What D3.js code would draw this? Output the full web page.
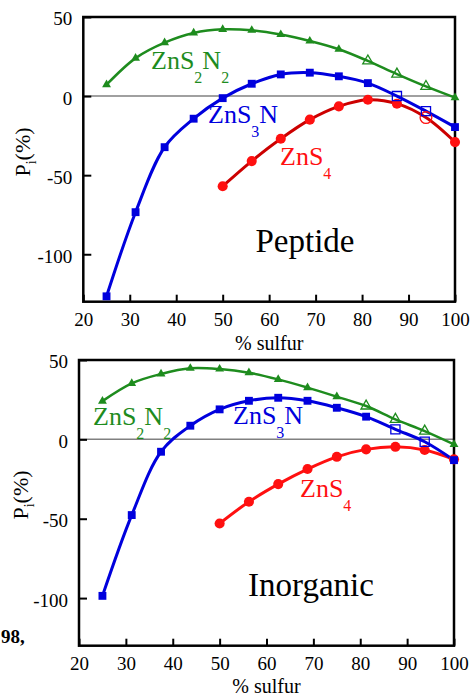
<!DOCTYPE html>
<html>
<head>
<meta charset="utf-8">
<script src="https://cdn.jsdelivr.net/npm/d3@7"></script>
<style>
  body { margin: 0; background: #fff; }
</style>
</head>
<body>
<svg id="chart" width="471" height="698" font-family="Liberation Serif, Times New Roman, serif"></svg>
<script>
// x values shared by every series (% sulfur)
const sulfur = [25, 31.25, 37.5, 43.75, 50, 56.25, 62.5, 68.75, 75, 81.25, 87.5, 93.75, 100];

// Peptide panel
const pepZnS2N2 = [7.2, 24.0, 33.8, 39.9, 42.2, 41.6, 38.9, 34.8, 29.6, 22.2, 13.9, 6.1, -1.0];
const pepZnS3N = [-126.6, -73.4, -32.3, -14.3, -1.3, 7.8, 13.7, 14.8, 12.5, 8.2, 0, -9.5, -19.6];
const pepZnS4 = [null, null, null, null, -57, -41.1, -27, -14.9, -6.5, -2.3, -4.8, -13.6, -29.1];

// Inorganic panel
const inoZnS2N2 = [24.1, 35.3, 41.2, 44.8, 44.3, 42.0, 37.8, 32.6, 26.9, 21.0, 12.6, 5.2, -3.2];
const inoZnS3N = [-98.6, -47.7, -7.8, 8.6, 18.9, 24.3, 26.2, 24.3, 19.9, 14.3, 6.3, -1.5, -13.1];
const inoZnS4 = [null, null, null, null, -53.0, -39.3, -28.2, -18.7, -11.0, -6.3, -4.7, -6.7, -12.6];

// which points are drawn as open symbols
const openS2N2 = [81.25, 87.5, 93.75];
const openS3N = [87.5, 93.75];
const openS4Pep = [93.75];
const openS4Ino = [];

const xTicks = [20, 30, 40, 50, 60, 70, 80, 90, 100];
const yTicks = [50, 0, -50, -100];

const green = "#1e8c1e";
const blue = "#0000dd";
const red = "#ff1010";
const serif = "Liberation Serif, Times New Roman, serif";

const svg = d3.select("#chart");

function drawPanel(p) {
    const x = d3.scaleLinear().domain([20, 100]).range([p.left, p.right]);
    const y = d3.scaleLinear().domain([-130, 50]).range([p.bottom, p.top]);
    const g = svg.append("g");

    // zero reference line
    g.append("line")
        .attr("x1", x(20)).attr("x2", x(100))
        .attr("y1", y(0)).attr("y2", y(0))
        .attr("stroke", "#808080").attr("stroke-width", 1.5);

    const xAxis = g.append("g")
        .attr("transform", `translate(0,${p.bottom})`)
        .call(d3.axisBottom(x).tickValues(xTicks).tickFormat(d => String(d))
            .tickSizeInner(-7).tickSizeOuter(0).tickPadding(11));
    const yAxis = g.append("g")
        .attr("transform", `translate(${p.left},0)`)
        .call(d3.axisLeft(y).tickValues(yTicks).tickFormat(d => String(d))
            .tickSizeInner(-8).tickSizeOuter(0).tickPadding(11));

    [xAxis, yAxis].forEach(a => {
        a.attr("font-family", serif).attr("font-size", 19);
        a.select(".domain").remove();
        a.selectAll("line").attr("stroke", "#000").attr("stroke-width", 2);
        a.selectAll("text").attr("fill", "#000");
    });
    yAxis.selectAll("text").attr("dy", "0.42em");

    // frame
    g.append("rect")
        .attr("x", p.left).attr("y", p.top)
        .attr("width", p.right - p.left).attr("height", p.bottom - p.top)
        .attr("fill", "none").attr("stroke", "#000").attr("stroke-width", 2.5);

    const line = d3.line()
        .defined(d => d[1] !== null)
        .x(d => x(d[0])).y(d => y(d[1]))
        .curve(d3.curveCatmullRom.alpha(0.5));

    p.series.forEach(s => {
        const pts = sulfur.map((v, i) => [v, s.values[i]]);
        g.append("path")
            .datum(pts)
            .attr("d", line)
            .attr("fill", "none")
            .attr("stroke", s.lineColor)
            .attr("stroke-width", s.width);
    });

    p.series.forEach(s => {
        const pts = sulfur.map((v, i) => [v, s.values[i]]).filter(d => d[1] !== null);
        g.selectAll(null)
            .data(pts)
            .enter()
            .append("path")
            .attr("d", d => {
                const open = s.open.includes(d[0]);
                return d3.symbol().type(s.symbol).size(open ? s.size * 1.35 : s.size)();
            })
            .attr("transform", d => `translate(${x(d[0])},${y(d[1])})`)
            .attr("fill", d => s.open.includes(d[0]) ? "none" : s.color)
            .attr("stroke", s.color)
            .attr("stroke-width", d => s.open.includes(d[0]) ? 1.3 : 0);
    });

    // series labels with subscripts
    p.labels.forEach(l => {
        const t = g.append("text")
            .attr("x", l.x).attr("y", l.y)
            .attr("fill", l.color)
            .attr("font-size", 26);
        l.parts.forEach(part => {
            if (part.sub) {
                t.append("tspan").attr("dy", 14).attr("font-size", 16).text(part.text);
            } else {
                t.append("tspan").attr("dy", part.first ? 0 : -14).text(part.text);
            }
        });
    });

    g.append("text")
        .attr("x", p.titleX).attr("y", p.titleY)
        .attr("text-anchor", "middle")
        .attr("font-size", 33)
        .text(p.title);

    g.append("text")
        .attr("x", (p.left + p.right) / 2).attr("y", p.xLabelY)
        .attr("text-anchor", "middle")
        .attr("font-size", 20)
        .text("% sulfur");

    const yl = g.append("text")
        .attr("transform", `translate(${p.yLabelX},${p.yLabelY}) rotate(-90)`)
        .attr("text-anchor", "middle")
        .attr("font-size", 22);
    yl.append("tspan").text("P");
    yl.append("tspan").attr("dy", 6).attr("font-size", 14).text("i");
    yl.append("tspan").attr("dy", -6).text("(%)");
}

drawPanel({
    left: 83.3, right: 455, top: 17, bottom: 301.7,
    series: [
        { values: pepZnS4, color: red, lineColor: "#cc0000", width: 3, symbol: d3.symbolCircle, size: 80, open: openS4Pep },
        { values: pepZnS3N, color: blue, lineColor: blue, width: 3, symbol: d3.symbolSquare, size: 62, open: openS3N },
        { values: pepZnS2N2, color: green, lineColor: green, width: 2.5, symbol: d3.symbolTriangle, size: 34, open: openS2N2 }
    ],
    labels: [
        { x: 151, y: 69, color: green, parts: [{ text: "ZnS", first: true }, { text: "2", sub: true }, { text: "N" }, { text: "2", sub: true }] },
        { x: 208, y: 123, color: blue, parts: [{ text: "ZnS", first: true }, { text: "3", sub: true }, { text: "N" }] },
        { x: 280, y: 165, color: red, parts: [{ text: "ZnS", first: true }, { text: "4", sub: true }] }
    ],
    title: "Peptide", titleX: 305, titleY: 252,
    xLabelY: 350, yLabelX: 30, yLabelY: 152
});

drawPanel({
    left: 79, right: 454, top: 360, bottom: 645.7,
    series: [
        { values: inoZnS4, color: red, lineColor: red, width: 3, symbol: d3.symbolCircle, size: 80, open: openS4Ino },
        { values: inoZnS3N, color: blue, lineColor: blue, width: 3, symbol: d3.symbolSquare, size: 62, open: openS3N },
        { values: inoZnS2N2, color: green, lineColor: green, width: 2.5, symbol: d3.symbolTriangle, size: 34, open: openS2N2 }
    ],
    labels: [
        { x: 93, y: 425, color: green, parts: [{ text: "ZnS", first: true }, { text: "2", sub: true }, { text: "N" }, { text: "2", sub: true }] },
        { x: 233, y: 424, color: blue, parts: [{ text: "ZnS", first: true }, { text: "3", sub: true }, { text: "N" }] },
        { x: 300, y: 497, color: red, parts: [{ text: "ZnS", first: true }, { text: "4", sub: true }] }
    ],
    title: "Inorganic", titleX: 311, titleY: 596,
    xLabelY: 693, yLabelX: 28, yLabelY: 495
});

// fragment of surrounding page text
svg.append("text")
    .attr("x", 1).attr("y", 643)
    .attr("font-size", 19)
    .attr("font-weight", "bold")
    .text("98,");
</script>
</body>
</html>
